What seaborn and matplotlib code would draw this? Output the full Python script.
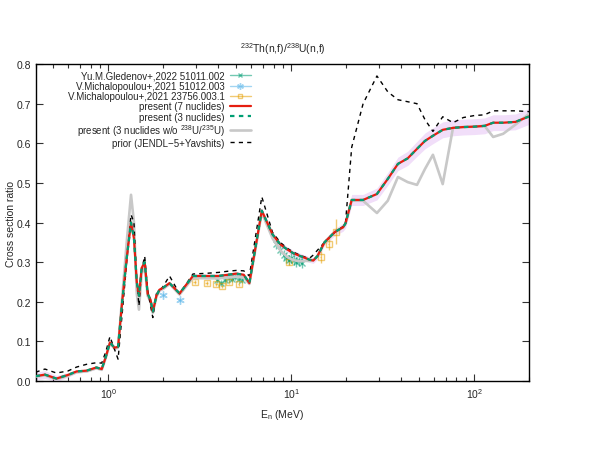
"""
232Th(n,f)/238U(n,f) cross section ratio: evaluated curves vs. experimental data.
"""

import numpy as np
import pandas as pd
import matplotlib
matplotlib.use("Agg")
import matplotlib.pyplot as plt
from matplotlib.lines import Line2D
import seaborn as sns

# --- evaluated curves (shared energy grid, MeV) ---
energy = [0.4, 0.45, 0.52, 0.6, 0.67, 0.76, 0.86, 0.92, 0.97, 1.02,
          1.08, 1.13, 1.19, 1.26, 1.33, 1.38, 1.43, 1.47, 1.52, 1.58,
          1.64, 1.70, 1.75, 1.83, 1.90, 2.0, 2.16, 2.45, 2.9, 3.5,
          4.0, 4.5, 5.0, 5.5, 5.9, 6.9, 7.9, 8.7, 9.5, 10.3,
          11.1, 12.0, 12.6, 13.2, 13.9, 15.2, 17.3, 19.2, 19.8, 21.4,
          24.7, 29.4, 33.7, 38.3, 43.3, 48.7, 53.8, 59.5, 67.3, 76.6,
          87.2, 100, 114, 127, 144, 168, 200]

present7 = [0.012, 0.016, 0.006, 0.015, 0.024, 0.026, 0.034, 0.030, 0.062, 0.097,
            0.084, 0.086, 0.200, 0.310, 0.400, 0.360, 0.250, 0.215, 0.285, 0.300,
            0.220, 0.205, 0.175, 0.215, 0.230, 0.236, 0.247, 0.221, 0.265, 0.265,
            0.265, 0.268, 0.271, 0.268, 0.247, 0.430, 0.370, 0.345, 0.332, 0.322,
            0.316, 0.310, 0.306, 0.304, 0.315, 0.350, 0.376, 0.388, 0.398, 0.457,
            0.457, 0.472, 0.510, 0.548, 0.562, 0.586, 0.606, 0.619, 0.634, 0.639,
            0.641, 0.642, 0.644, 0.652, 0.652, 0.654, 0.668]

present7_unc = [0.010, 0.010, 0.008, 0.006, 0.004, 0.004, 0.004, 0.004, 0.004, 0.005,
                0.005, 0.005, 0.006, 0.006, 0.007, 0.006, 0.005, 0.005, 0.005, 0.005,
                0.005, 0.005, 0.005, 0.005, 0.005, 0.005, 0.005, 0.005, 0.005, 0.005,
                0.005, 0.005, 0.005, 0.005, 0.005, 0.007, 0.007, 0.007, 0.007, 0.007,
                0.007, 0.007, 0.007, 0.007, 0.008, 0.008, 0.009, 0.010, 0.012, 0.014,
                0.014, 0.015, 0.016, 0.017, 0.018, 0.019, 0.020, 0.020, 0.020, 0.020,
                0.020, 0.020, 0.020, 0.020, 0.020, 0.020, 0.020]

present3 = present7  # 3-nuclide fit overlays the 7-nuclide one

present3_wo = [0.011, 0.014, 0.004, 0.013, 0.022, 0.024, 0.032, 0.028, 0.060, 0.095,
               0.082, 0.084, 0.210, 0.350, 0.470, 0.400, 0.220, 0.180, 0.270, 0.290,
               0.215, 0.200, 0.172, 0.212, 0.228, 0.233, 0.245, 0.218, 0.260, 0.259,
               0.259, 0.261, 0.263, 0.261, 0.245, 0.425, 0.360, 0.330, 0.313, 0.305,
               0.302, 0.303, 0.303, 0.305, 0.315, 0.350, 0.376, 0.388, 0.398, 0.455,
               0.455, 0.424, 0.455, 0.515, 0.502, 0.495, 0.535, 0.571, 0.497, 0.639,
               0.641, 0.642, 0.644, 0.616, 0.624, 0.647, 0.675]

prior = [0.022, 0.030, 0.020, 0.025, 0.035, 0.042, 0.046, 0.045, 0.075, 0.112,
         0.080, 0.055, 0.170, 0.300, 0.420, 0.400, 0.250, 0.190, 0.280, 0.315,
         0.230, 0.190, 0.160, 0.220, 0.225, 0.240, 0.265, 0.220, 0.270, 0.272,
         0.274, 0.277, 0.279, 0.278, 0.265, 0.465, 0.375, 0.350, 0.335, 0.325,
         0.318, 0.312, 0.310, 0.318, 0.330, 0.350, 0.375, 0.390, 0.400, 0.590,
         0.700, 0.770, 0.730, 0.710, 0.705, 0.700, 0.660, 0.630, 0.667, 0.652,
         0.665, 0.670, 0.672, 0.682, 0.682, 0.682, 0.680]

# --- experimental data ---
gled_e = [3.95, 4.15, 4.35, 4.55, 4.75, 4.95, 5.2, 5.4,
          8.3, 8.7, 9.1, 9.4, 9.7, 10.0, 10.3, 10.6, 11.0, 11.4]
gled_r = [0.255, 0.248, 0.255, 0.260, 0.258, 0.262, 0.258, 0.255,
          0.345, 0.330, 0.318, 0.310, 0.305, 0.310, 0.305, 0.300, 0.302, 0.298]
gled_err = [0.008, 0.008, 0.008, 0.008, 0.008, 0.008, 0.008, 0.008,
            0.012, 0.012, 0.012, 0.012, 0.012, 0.012, 0.012, 0.012, 0.012, 0.012]

mich1_e = [2.0, 2.45]
mich1_r = [0.218, 0.205]
mich1_err = [0.005, 0.005]

mich2_e = [2.96, 3.44, 3.9, 4.2, 4.55, 5.15, 9.7, 14.5, 16.0, 17.5]
mich2_r = [0.250, 0.247, 0.245, 0.240, 0.250, 0.245, 0.300, 0.313, 0.346, 0.377]
mich2_err = [0.006, 0.006, 0.006, 0.006, 0.006, 0.006, 0.008, 0.015, 0.015, 0.032]

C_GREEN = "#009e73"
C_BLUE = "#56b4e9"
C_ORANGE = "#e69f00"
C_RED = "#e51e10"
C_GRAY = "#c8c8c8"
C_BAND = "#9400d3"


def main():
    sns.set_theme(style="ticks")
    plt.rcParams["font.family"] = ["Liberation Sans", "DejaVu Sans"]
    plt.rcParams["mathtext.default"] = "regular"
    plt.rcParams["font.size"] = 7.5

    fig = plt.figure(figsize=(5.98, 4.52), dpi=100)
    ax = fig.add_axes([0.0595, 0.155, 0.8255, 0.701])

    df = pd.DataFrame({"E": energy, "p7": present7, "unc": present7_unc,
                       "p3": present3, "p3wo": present3_wo, "prior": prior})

    # uncertainty band of the 7-nuclide fit
    ax.fill_between(df["E"], df["p7"] - df["unc"], df["p7"] + df["unc"],
                    color=C_BAND, alpha=0.13, lw=0, zorder=1)

    handles = []
    eb_kw = dict(ls="none", elinewidth=1, capsize=0, alpha=0.55, zorder=3)
    data_sets = [
        (gled_e, gled_r, gled_err, C_GREEN, "x", 4, "full", 0.05,
         "Yu.M.Gledenov+,2022 51011.002"),
        (mich1_e, mich1_r, mich1_err, C_BLUE, (6, 2, 0), 6, "full", 0.04,
         "V.Michalopoulou+,2021 51012.003"),
        (mich2_e, mich2_r, mich2_err, C_ORANGE, "s", 4, "none", 0.06,
         "V.Michalopoulou+,2021 23756.003.1"),
    ]
    for xs, ys, err, col, mk, ms, fill, xe, lab in data_sets:
        ax.errorbar(xs, ys, yerr=err, xerr=xe, color=col, marker=mk, ms=ms,
                    mew=1, mfc=col if fill == "full" else "none", **eb_kw)
        proxy = Line2D([], [], color=col, lw=1, marker=mk, ms=ms * 0.8, mew=1,
                       mfc=col if fill == "full" else "none", alpha=0.55)
        handles.append((proxy, lab))

    sns.lineplot(data=df, x="E", y="p3wo", ax=ax, color=C_GRAY, lw=1.9,
                 sort=False, estimator=None, zorder=4)
    sns.lineplot(data=df, x="E", y="prior", ax=ax, color="black", lw=1,
                 linestyle=(0, (3, 3)), sort=False, estimator=None, zorder=5)
    sns.lineplot(data=df, x="E", y="p7", ax=ax, color=C_RED, lw=1.6,
                 sort=False, estimator=None, zorder=6)
    sns.lineplot(data=df, x="E", y="p3", ax=ax, color=C_GREEN, lw=1.6,
                 linestyle=(0, (2, 2)), sort=False, estimator=None, zorder=7)

    lines = ax.get_lines()
    gray_l, prior_l, red_l, green_l = lines[-4:]
    handles.append((red_l, "present (7 nuclides)"))
    handles.append((green_l, "present (3 nuclides)"))
    handles.append((gray_l, "present (3 nuclides w/o $^{238}$U/$^{235}$U)"))
    handles.append((prior_l, "prior (JENDL\u22125+Yavshits)"))

    ax.set_xscale("log")
    ax.set_xlim(0.4, 200)
    ax.set_ylim(0.0, 0.8)
    ax.set_yticks(np.arange(0, 0.81, 0.1))
    ax.yaxis.set_major_formatter(matplotlib.ticker.FormatStrFormatter("%.1f"))
    ax.tick_params(which="both", direction="in", top=True, right=True,
                   labelsize=7.5, width=0.8, color="#333333")
    ax.tick_params(which="major", length=5)
    ax.tick_params(which="minor", length=3)
    for s in ax.spines.values():
        s.set_linewidth(1)
        s.set_color("black")

    ax.set_xlabel("E$_n$ (MeV)", fontsize=7.5, labelpad=5)
    ax.set_ylabel("Cross section ratio", fontsize=7.5)
    ax.yaxis.set_label_coords(-0.04, 0.5)
    ax.set_title("$^{232}$Th(n,f)/$^{238}$U(n,f)", fontsize=7.5, pad=9)

    ax.legend([h for h, _ in handles], [l for _, l in handles],
              loc="upper right", bbox_to_anchor=(0.45, 1.0), frameon=False,
              markerfirst=False, fontsize=7.0, labelspacing=0.02,
              handlelength=2.2, handletextpad=0.5, borderaxespad=0.3)

    fig.savefig("out.png", dpi=100)
    plt.close(fig)


if __name__ == "__main__":
    main()
